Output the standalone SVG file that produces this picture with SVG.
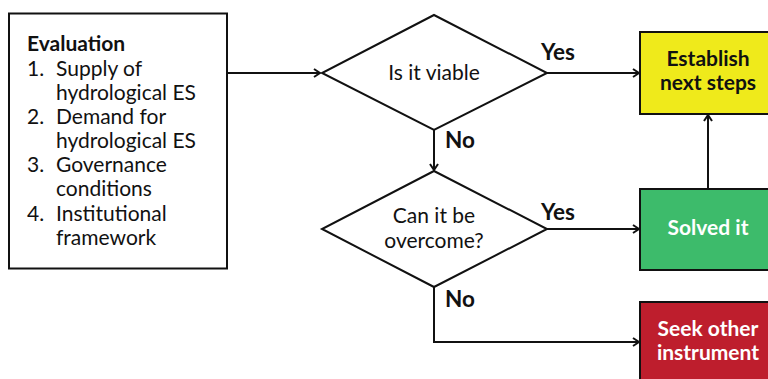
<svg xmlns="http://www.w3.org/2000/svg" width="768" height="379" viewBox="0 0 768 379">
<defs>
<style>
.t{font-family:Lato,"Open Sans","Liberation Sans",sans-serif;font-size:21px;fill:#111}
.d{font-family:Lato,"Open Sans","Liberation Sans",sans-serif;font-size:21px;fill:#111;text-anchor:middle}
.b{font-weight:bold}
.lb{font-family:Lato,"Open Sans","Liberation Sans",sans-serif;font-size:22.5px;font-weight:bold;fill:#111}
.bx{font-family:Lato,"Open Sans","Liberation Sans",sans-serif;font-size:21px;font-weight:bold;text-anchor:middle}
.shape{stroke:#111;stroke-width:2}
.edge{fill:none;stroke:#111;stroke-width:2}
</style>
<marker id="arr" viewBox="0 0 10 10" refX="9" refY="5" markerWidth="10" markerHeight="10" markerUnits="userSpaceOnUse" orient="auto">
<path d="M3,1 L9,5 L3,9" fill="none" stroke="#111" stroke-width="2"/>
</marker>
</defs>
<rect width="768" height="379" fill="#fff"/>
<g id="connectors">
<line class="edge" x1="228" y1="73" x2="320" y2="73" marker-end="url(#arr)"/>
<line class="edge" x1="547" y1="73" x2="639" y2="73" marker-end="url(#arr)"/>
<line class="edge" x1="434" y1="130" x2="434" y2="170" marker-end="url(#arr)"/>
<line class="edge" x1="547" y1="229" x2="639" y2="229" marker-end="url(#arr)"/>
<polyline class="edge" points="434,287 434,342 639,342" marker-end="url(#arr)"/>
<line class="edge" x1="708" y1="189" x2="708" y2="115" marker-end="url(#arr)"/>
<text class="lb" x="541" y="60">Yes</text>
<text class="lb" x="445" y="148">No</text>
<text class="lb" x="541" y="220">Yes</text>
<text class="lb" x="445" y="307">No</text>
</g>
<g id="evaluation">
<rect class="shape" x="9" y="13.5" width="218" height="255" fill="#fff"/>
<text class="t b" x="27" y="51">Evaluation</text>
<text class="t" x="27" y="76">1.</text><text class="t" x="56" y="76">Supply of</text>
<text class="t" x="56" y="100">hydrological ES</text>
<text class="t" x="27" y="124">2.</text><text class="t" x="56" y="124">Demand for</text>
<text class="t" x="56" y="148">hydrological ES</text>
<text class="t" x="27" y="172">3.</text><text class="t" x="56" y="172">Governance</text>
<text class="t" x="56" y="196">conditions</text>
<text class="t" x="27" y="221">4.</text><text class="t" x="56" y="221">Institutional</text>
<text class="t" x="56" y="245">framework</text>
</g>
<g id="viable">
<polygon class="shape" points="434,15 547,73 434,130 322,73" fill="#fff"/>
<text class="d" x="434" y="80">Is it viable</text>
</g>
<g id="overcome">
<polygon class="shape" points="434,171 547,229 434,287 322,229" fill="#fff"/>
<text class="d" x="434" y="223">Can it be</text>
<text class="d" x="434" y="248">overcome?</text>
</g>
<g id="establish">
<rect class="shape" x="640" y="32" width="140" height="82" fill="#EFEA1B"/>
<text class="bx" x="708" y="66" fill="#111">Establish</text>
<text class="bx" x="708" y="90" fill="#111">next steps</text>
</g>
<g id="solved">
<rect class="shape" x="640" y="189" width="140" height="81" fill="#3DBB6B"/>
<text class="bx" x="708" y="235" fill="#fff">Solved it</text>
</g>
<g id="seek">
<rect class="shape" x="640" y="302" width="140" height="90" fill="#BE1E2D"/>
<text class="bx" x="708" y="336" fill="#fff">Seek other</text>
<text class="bx" x="708" y="360" fill="#fff">instrument</text>
</g>
</svg>
